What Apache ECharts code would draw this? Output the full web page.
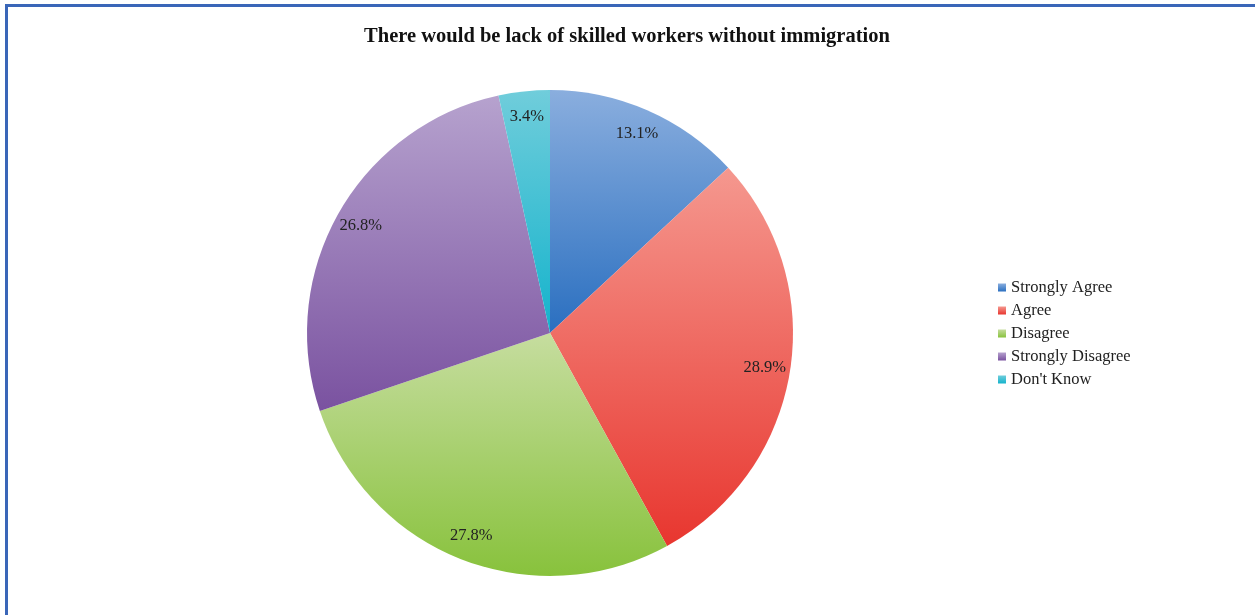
<!DOCTYPE html>
<html>
<head>
<meta charset="utf-8">
<script src="https://cdn.jsdelivr.net/npm/echarts@6/dist/echarts.min.js"></script>
<style>
  html, body { margin: 0; padding: 0; background: #fff; }
  #frame { position: absolute; left: 5px; top: 4px; width: 1260px; height: 620px;
           border-left: 3px solid #3a66b8; border-top: 3px solid #3a66b8; box-sizing: border-box; }
  #chart { position: absolute; left: 0; top: 0; width: 1255px; height: 615px; }
</style>
</head>
<body>
<div id="frame"></div>
<div id="chart"></div>
<script>
const titleText = 'There would be lack of skilled workers without immigration';
const categories = ['Strongly Agree', 'Agree', 'Disagree', 'Strongly Disagree', "Don't Know"];
const shares = [13.1, 28.9, 27.8, 26.8, 3.4];
// light (top) and dark (bottom) shade per slice
const topShades = ['#8aaede', '#f5988f', '#c6dd9f', '#b6a2ce', '#70cddb'];
const bottomShades = ['#2a6fc0', '#e8362f', '#88c23c', '#7a52a0', '#14b3cc'];

const FONT = "'Liberation Serif', 'DejaVu Serif', serif";

function shade(i) {
  return new echarts.graphic.LinearGradient(0, 0, 0, 1, [
    { offset: 0, color: topShades[i] },
    { offset: 1, color: bottomShades[i] }
  ]);
}

const sliceData = categories.map((name, i) => ({
  name, value: shares[i], itemStyle: { color: shade(i) }
}));
const labelData = categories.map((name, i) => ({ name, value: shares[i] }));

const chart = echarts.init(document.getElementById('chart'), null, { renderer: 'canvas' });
chart.setOption({
  animation: false,
  backgroundColor: 'transparent',
  title: {
    text: titleText, left: 622, top: 21, textAlign: 'center',
    textStyle: { fontFamily: FONT, fontWeight: 'bold', fontSize: 20.5, color: '#111' }
  },
  legend: {
    data: categories, orient: 'vertical', left: 993, top: 274,
    itemWidth: 8, itemHeight: 8, itemGap: 6, icon: 'rect',
    textStyle: { fontFamily: FONT, fontSize: 16.5, color: '#222' }
  },
  series: [
    {
      type: 'pie', center: [550, 333], radius: 243, startAngle: 90, clockwise: true,
      data: sliceData, label: { show: false }, labelLine: { show: false },
      itemStyle: { borderWidth: 0 }, emphasis: { disabled: true }
    },
    {
      // transparent ring carrying the percentage labels near the rim
      type: 'pie', center: [550, 333], radius: [186, 243], startAngle: 90, clockwise: true,
      data: labelData, silent: true, emphasis: { disabled: true },
      itemStyle: { color: 'rgba(0,0,0,0)', borderWidth: 0 },
      labelLine: { show: false },
      label: {
        show: true, position: 'inside',
        formatter: p => p.value.toFixed(1) + '%',
        fontFamily: FONT, fontSize: 16.5, color: '#222'
      }
    }
  ]
});
</script>
</body>
</html>
